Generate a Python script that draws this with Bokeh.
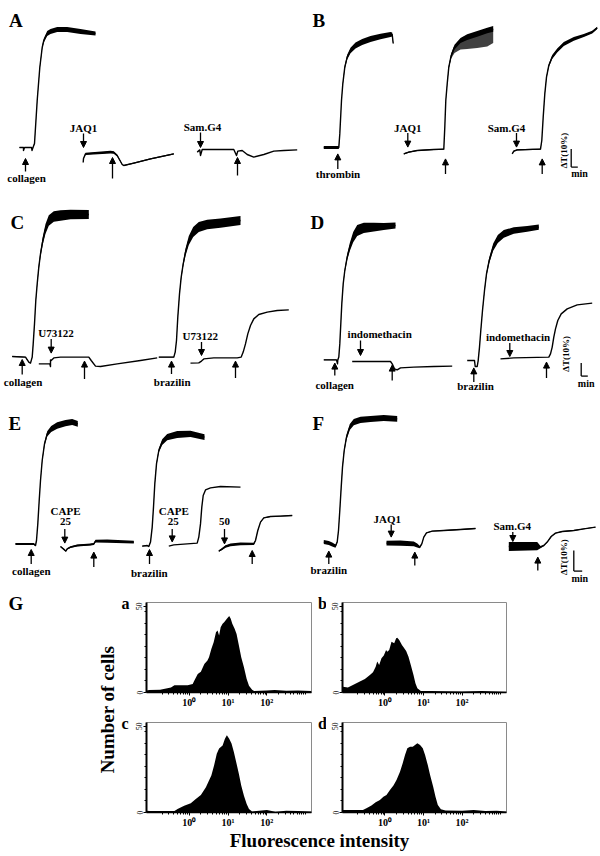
import numpy as np
from bokeh.plotting import figure
from bokeh.models import (Range1d, Arrow, NormalHead, ColumnDataSource,
                          FixedTicker, CustomJSTickFormatter)
from bokeh.layouts import column, row
from bokeh.embed import file_html
from bokeh.resources import INLINE
from bokeh.core.properties import value

SERIF = "Liberation Serif"

# ---------------- aggregation traces (x: min, y: % light transmission) ----------------
# Panel A
A_col_t = [1.1, 1.5, 1.5, 1.6, 2.3, 2.35, 2.45, 2.6, 2.87, 3.13, 3.37, 3.53, 3.87, 4.2, 4.87, 5.87, 7.2, 8.7]
A_col_y = [0, 0, -1.5, 0, 0, -1.5, 0, 2, 23.5, 40, 50, 53.5, 57, 58, 59, 59, 58, 57]
A_col_w = [0.3, 0.3, 0, 0, 0.3, 0, 0.3, 0.4, 0.5, 0.6, 0.8, 1.0, 1.2, 1.3, 1.3, 1.2, 1.2, 1.0]
A_jaq_t = [7.47, 7.5, 7.7, 10.2, 10.53, 10.87, 11.37, 11.53, 12.53, 14.2, 16.53]
A_jaq_y = [-7.5, -5.5, -3.2, -2.3, -2.5, -4, -8.5, -9, -7.8, -5.7, -3.2]
A_jaq_w = [0, 0, 0.6, 0.7, 0.6, 0.5, 0.3, 0.3, 0.3, 0.3, 0.3]
A_sam_t = [18.87, 19.13, 19.2, 19.37, 22.53, 22.8, 22.93, 23.37, 23.87, 24.53, 25.53, 26.53, 27.53, 28.87]
A_sam_y = [-2.3, -1.2, -4, -1, -1, -4, -1.8, -1.5, -3.5, -4.8, -3.5, -1.8, -1.5, -1.2]

# Panel B
B_thr_t = [2.33, 3.83, 3.93, 4.1, 4.23, 4.43, 4.67, 5.0, 5.5, 6.17, 7.0, 8.0, 9.0, 9.17, 9.27]
B_thr_y = [0, 0, 6.8, 23.5, 31.8, 40.2, 45.2, 48.5, 51, 52.7, 54.3, 55.5, 56.5, 56.5, 52]
B_thr_w = [0.8, 0.8, 0.3, 0.4, 0.6, 1.0, 1.2, 1.4, 1.5, 1.5, 1.5, 1.4, 1.3, 1.0, 0.5]
B_jaq_t = [10.33, 10.83, 11.67, 13.33, 14.33, 14.43, 14.53, 14.67, 14.83, 15.07, 15.4, 16.0, 16.67, 17.67, 18.67, 19.27]
B_jaq_y = [-3.2, -2.3, -1.5, -1, -0.8, 10.2, 23.5, 31.8, 40.2, 46, 50.2, 53.5, 55.2, 56.8, 58.5, 59.3]
B_jaq_w = [0.3, 0.3, 0.3, 0.3, 0.3, 0.3, 0.4, 0.6, 0.8, 1.0, 1.2, 1.3, 1.4, 1.4, 1.4, 1.4]
B_jaq_spike = [0, 0, 0, 0, 0, 0, 0, 0, 0.5, 1.5, 3, 4.5, 6, 7, 8, 7]
B_sam_t = [21.17, 21.33, 21.67, 24.0, 24.13, 24.27, 24.43, 24.6, 24.83, 25.17, 25.67, 26.33, 27.33, 28.33, 29.17, 29.67]
B_sam_y = [-3.2, -1.8, -1.2, -0.8, 3.5, 15.2, 26.8, 35.2, 41, 45.2, 48.5, 51.8, 54.3, 56, 57.7, 59.8]
B_sam_w = [0, 0.3, 0.3, 0.3, 0.3, 0.3, 0.4, 0.6, 0.8, 1.0, 1.0, 1.0, 0.9, 0.8, 0.7, 0.6]

# Panel C
C_col_t = [0.37, 1.7, 2.03, 2.2, 2.37, 2.47, 2.6, 2.73, 2.87, 3.03, 3.2, 3.43, 3.7, 4.03, 4.53, 5.2, 6.2, 8.03]
C_col_y = [0.5, 0.2, -2.3, -2.8, 0.2, 6.8, 16.8, 28.5, 36.8, 45.2, 51.8, 58.5, 64.3, 68.5, 70.5, 71, 71.5, 71.5]
C_col_w = [0.2, 0.2, 0.2, 0.2, 0.2, 0.3, 0.4, 0.6, 0.8, 1.2, 1.6, 2.0, 2.4, 2.6, 2.6, 2.6, 2.4, 2.2]
C_u1_t = [3.03, 4.13, 4.2, 4.2, 4.27, 4.53, 5.2, 8.03, 8.27, 8.7, 9.2, 10.87, 13.2, 14.87]
C_u1_y = [-3.2, -3.2, -4.5, -1.2, -1.5, -0.2, 0.2, 0.2, -1.5, -4.3, -4.5, -3.2, -1.5, -0.2]
C_brz_t = [15.03, 16.53, 16.67, 16.8, 16.93, 17.1, 17.27, 17.47, 17.7, 18.03, 18.47, 19.03, 19.87, 21.2, 23.2]
C_brz_y = [0.2, 0.2, 2.7, 8.5, 20.2, 31.8, 40.2, 46.8, 52.7, 58.5, 62.7, 65.2, 66.5, 67.2, 68.5]
C_brz_w = [0.2, 0.2, 0.2, 0.3, 0.4, 0.6, 0.9, 1.3, 1.8, 2.2, 2.5, 2.5, 2.4, 2.3, 2.2]
C_u2_t = [18.2, 19.03, 19.3, 19.53, 20.53, 22.87, 23.27, 23.47, 23.7, 23.93, 24.2, 24.53, 25.03, 25.87, 26.87, 28.03]
C_u2_y = [-2.8, -2.7, -1.8, -0.7, -0.2, -0.2, 0.2, 2.7, 6.8, 11.8, 16, 19.3, 21.5, 22.7, 23.5, 23.8]

# Panel D
D_col_t = [2.33, 3.6, 3.7, 3.73, 3.83, 3.93, 4.03, 4.13, 4.27, 4.43, 4.67, 4.93, 5.27, 5.67, 6.33, 7.33, 8.33, 9.5]
D_col_y = [-0.2, -0.2, -2.2, -0.2, 1.2, 7.8, 17.8, 27.8, 37.8, 44.5, 51.2, 56.2, 61.2, 64.5, 65.8, 66.2, 66.5, 67]
D_col_w = [0.2, 0.2, 0.2, 0.2, 0.2, 0.3, 0.4, 0.5, 0.7, 1.0, 1.5, 2.0, 2.6, 2.8, 2.6, 2.2, 1.8, 1.5]
D_in1_t = [5.17, 9.0, 9.17, 9.4, 9.67, 10.0, 11.33, 13.33, 15.17]
D_in1_y = [-1, -1, -2.2, -4.7, -5.2, -4.2, -3.8, -3.5, -3.3]
D_brz_t = [16.67, 17.4, 17.47, 17.67, 17.77, 17.9, 18.03, 18.2, 18.4, 18.6, 18.87, 19.27, 19.73, 20.33, 21.33, 22.67, 23.83]
D_brz_y = [-0.5, -0.5, -3.5, -3.5, -0.5, 6.2, 14.5, 24.5, 34.5, 42.8, 49.5, 56.2, 60.3, 62.8, 64.5, 65.3, 66.2]
D_brz_w = [0, 0, 0, 0, 0.2, 0.3, 0.4, 0.5, 0.7, 1.0, 1.4, 1.8, 2.0, 1.9, 1.6, 1.4, 1.3]
D_in2_t = [20.0, 21.33, 24.83, 25.0, 25.17, 25.33, 25.5, 25.73, 26.07, 26.67, 27.67, 29.17]
D_in2_y = [0.3, 0.8, 1.2, 2.8, 6.2, 11.2, 15.3, 19.5, 22.8, 25.3, 27.3, 28.2]

# Panel E
E_col_t = [0.7, 2.53, 2.7, 2.8, 2.93, 3.07, 3.2, 3.37, 3.6, 3.87, 4.27, 4.87, 5.7, 6.37, 6.93]
E_col_y = [-0.2, -0.2, -1, 1.5, 9.8, 21.5, 31.5, 41.5, 49.8, 54.8, 57.3, 59, 60.2, 60.7, 59.8]
E_col_w = [0.5, 0.5, 0.3, 0.3, 0.3, 0.4, 0.5, 0.7, 1.0, 1.3, 1.5, 1.6, 1.6, 1.5, 1.4]
E_ca1_t = [5.2, 5.6, 5.73, 5.87, 6.2, 6.87, 8.2, 8.53, 8.7, 9.87, 12.53]
E_ca1_y = [-1.5, -3.2, -3.8, -2.7, -1.8, -1, -0.5, -0.2, 1.2, 1.2, 0.7]
E_ca1_w = [0.3, 0.3, 0.3, 0.3, 0.4, 0.5, 0.5, 0.5, 0.7, 0.8, 0.7]
E_brz_t = [13.37, 13.87, 14.03, 14.2, 14.37, 14.5, 14.63, 14.8, 15.03, 15.37, 15.87, 16.87, 18.2, 19.6]
E_brz_y = [-1.3, -1, -1.5, 0.7, 8.2, 18.2, 29.8, 39.8, 46.5, 50.7, 53.2, 54.5, 54.8, 53.2]
E_brz_w = [0.2, 0.2, 0.2, 0.2, 0.3, 0.4, 0.5, 0.7, 1.0, 1.4, 1.6, 1.7, 1.6, 1.4]
E_ca2_t = [16.03, 16.53, 17.87, 18.87, 19.03, 19.2, 19.33, 19.47, 19.7, 20.2, 21.2, 23.2]
E_ca2_y = [-1.3, -0.7, -0.2, 0.2, 3.2, 9.8, 18.2, 24, 26.8, 27.8, 28.5, 28.2]
E_c50_t = [21.03, 21.37, 21.7, 22.2, 23.2, 24.53, 24.7, 24.93, 25.2, 25.53, 26.2, 27.2, 28.37]
E_c50_y = [-3.8, -2.7, -1.5, -0.7, -0.2, -0.2, 1.5, 6.5, 10.7, 12.8, 13.5, 13.7, 14]
E_c50_w = [0.3, 0.5, 0.6, 0.7, 0.7, 0.6, 0.3, 0.2, 0.2, 0.2, 0.2, 0.2, 0.2]

# Panel F
F_brz_t = [2.33, 2.83, 3.17, 3.5, 3.67, 3.8, 3.93, 4.07, 4.2, 4.37, 4.6, 4.93, 5.33, 6.0, 7.0, 8.33, 9.67]
F_brz_y = [0.7, 0.2, -0.5, -1.3, 0.7, 6.5, 16.5, 28.2, 38.2, 46.5, 53.2, 58.2, 60.7, 61.8, 62.3, 62.7, 62.3]
F_brz_w = [1.0, 1.0, 1.0, 0.8, 0.4, 0.4, 0.5, 0.6, 0.8, 1.0, 1.3, 1.5, 1.6, 1.6, 1.5, 1.5, 1.4]
F_jaq_t = [8.6, 10.0, 11.33, 11.67, 11.93, 12.13, 12.33, 12.6, 13.17, 14.33, 16.0, 17.5]
F_jaq_y = [0.2, 0.2, -0.2, -1, -1.8, -0.2, 3.2, 5.3, 6.2, 6.5, 7, 7.5]
F_jaq_w = [1.2, 1.3, 1.2, 1.0, 0.6, 0.3, 0.2, 0.2, 0.2, 0.2, 0.2, 0.2]
F_sam_t = [20.83, 23.67, 24.0, 24.33, 24.67, 25.07, 25.5, 26.17, 27.33, 28.33, 29.5]
F_sam_y = [-1.5, -1.3, -1.8, -1, 0.7, 3.5, 5.2, 6, 6.5, 7.3, 8.2]
F_sam_w = [2.3, 2.1, 0.6, 0.3, 0.2, 0.2, 0.2, 0.2, 0.2, 0.2, 0.2]

# ---------------- flow cytometry histograms (x: log10 fluorescence, y: cells) ----------------
hist_a_log = [-1.1, -1.03, -0.75, -0.47, -0.38, -0.04, 0.09, 0.13, 0.22, 0.30, 0.39, 0.47, 0.51, 0.57, 0.63,
              0.69, 0.73, 0.77, 0.81, 0.86, 0.90, 0.97, 1.03, 1.07, 1.11, 1.17, 1.22, 1.28, 1.34, 1.41,
              1.48, 1.54, 1.62, 1.67, 2.0, 2.2, 2.5, 2.8, 3.15]
hist_a_cnt = [1.2, 1.4, 1.6, 2.9, 4.2, 4.2, 4.9, 6.8, 10.8, 12.1, 16.5, 18.5, 20.5, 25.3, 29.2,
              35.0, 36.0, 33.1, 37.9, 39.9, 40.8, 42.8, 44.4, 42.8, 39.9, 37.0, 34.0, 27.2, 20.5, 14.6,
              7.8, 3.9, 1.6, 0.8, 1.2, 1.5, 1.0, 1.2, 0.8]
hist_b_log = [-1.13, -1.09, -0.96, -0.83, -0.65, -0.52, -0.39, -0.31, -0.24, -0.20, -0.15, -0.09, -0.03, 0.03,
              0.06, 0.11, 0.17, 0.24, 0.29, 0.32, 0.37, 0.44, 0.50, 0.55, 0.61, 0.67, 0.74, 0.79, 0.84,
              0.93, 1.2, 1.57, 2.0, 2.5, 3.15]
hist_b_cnt = [2.5, 3.4, 2.9, 4.4, 6.4, 7.9, 10.2, 11.8, 15.0, 18.0, 16.0, 19.8, 21.4, 24.6,
              23.7, 24.6, 29.4, 28.5, 31.4, 31.7, 30.5, 27.6, 25.6, 24.1, 20.8, 16.0, 10.2, 5.4, 2.5,
              0.9, 0.8, 0.7, 0.6, 0.8, 0.5]
hist_c_log = [-1.1, -1.02, -0.38, -0.30, -0.13, 0.04, 0.17, 0.30, 0.43, 0.51, 0.57, 0.64, 0.71, 0.77, 0.86,
              0.92, 0.97, 1.03, 1.09, 1.15, 1.22, 1.28, 1.34, 1.41, 1.48, 1.54, 1.62, 2.0, 2.22, 2.5,
              2.8, 3.15]
hist_c_cnt = [1.0, 0.9, 0.9, 2.0, 3.9, 5.4, 7.8, 10.1, 14.6, 18.5, 21.4, 27.2, 34.1, 37.1, 38.9,
              42.8, 44.8, 42.8, 40.0, 35.1, 28.3, 22.4, 15.6, 9.7, 4.9, 2.0, 0.6, 1.4, 0.4, 1.0,
              0.8, 0.6]
hist_d_log = [-1.13, -1.09, -0.57, -0.48, -0.35, -0.24, -0.13, -0.04, 0.04, 0.13, 0.22, 0.30, 0.39, 0.46,
              0.52, 0.58, 0.65, 0.72, 0.78, 0.84, 0.91, 0.98, 1.04, 1.11, 1.17, 1.25, 1.31, 1.37, 1.45,
              1.57, 2.0, 2.3, 2.6, 2.9, 3.15]
hist_d_cnt = [1.5, 1.5, 1.5, 2.5, 4.0, 6.0, 7.3, 9.2, 10.2, 13.1, 15.6, 18.9, 23.7, 28.5,
              33.3, 37.2, 38.1, 38.1, 39.1, 40.1, 39.1, 37.2, 33.3, 27.5, 21.8, 15.0, 9.2, 4.4, 1.9,
              1.2, 1.0, 1.4, 0.8, 1.0, 0.6]
hist_x_ticks = [1, 10, 100]
hist_y_ticks = [0, 50]


def blank_fig(w, h, xr, yr):
    p = figure(width=w, height=h, x_range=Range1d(*xr), y_range=Range1d(*yr),
               output_backend="svg", toolbar_location=None, title=None,
               x_axis_location=None, y_axis_location=None, min_border=0)
    p.outline_line_color = None
    p.grid.visible = False
    p.background_fill_color = "white"
    p.border_fill_color = "white"
    return p


def add_trace(p, t, y, w=None, spike=None):
    t = np.asarray(t, dtype=float)
    y = np.asarray(y, dtype=float)
    if w is not None:
        w = np.asarray(w, dtype=float)
        p.varea(x=t, y1=y - w, y2=y + w, fill_color="black")
    if spike is not None:
        s = np.asarray(spike, dtype=float)
        p.varea(x=t, y1=y - s, y2=y, fill_color="black", fill_alpha=0.75)
    p.line(t, y, line_color="black", line_width=1.4, line_join="round")


def add_arrows(p, xs, y0, y1):
    src = ColumnDataSource(dict(x0=xs, y0=y0, x1=xs, y1=y1))
    p.add_layout(Arrow(end=NormalHead(size=6, fill_color="black", line_color="black", line_width=1),
                       x_start="x0", y_start="y0", x_end="x1", y_end="y1",
                       source=src, line_width=1.3, line_color="black"))


def add_labels(p, xs, ys, texts, size="11px"):
    src = ColumnDataSource(dict(x=xs, y=ys, text=texts))
    p.text(x="x", y="y", text="text", source=src, text_font=value(SERIF),
           text_font_style="bold", text_font_size=size, text_align="center",
           text_baseline="middle", text_color="black")


def add_letter(p, x, y, letter, size="19px"):
    p.text(x=[x], y=[y], text=[letter], text_font=value(SERIF), text_font_style="bold",
           text_font_size=size, text_align="left", text_baseline="alphabetic", text_color="black")


def add_scale(p, tx, ty, bx, by0, by1, bx1, mx, my):
    p.text(x=[tx], y=[ty], text=["\u0394T(10%)"], angle=np.pi / 2, text_font=value(SERIF),
           text_font_style="bold", text_font_size="9px", text_align="center",
           text_baseline="middle", text_color="black")
    p.segment(x0=[bx, bx], y0=[by0, by1], x1=[bx, bx1], y1=[by1, by1], line_color="black", line_width=1.3)
    add_labels(p, [mx], [my], ["min"], size="10px")


# ---------- A ----------
pA = blank_fig(300, 198, (-0.8, 29.2), (-25.5, 73.5))
add_letter(pA, 0.05, 63.5, "A")
add_trace(pA, A_col_t, A_col_y, A_col_w)
add_trace(pA, A_jaq_t, A_jaq_y, A_jaq_w)
add_trace(pA, A_sam_t, A_sam_y)
add_arrows(pA, [1.7, 7.5, 10.4, 19.2, 22.9], [-12, 7, -15.5, 7.5, -14], [-5.5, 0, -5, 0, -5])
add_labels(pA, [1.8, 7.5, 19.4], [-15, 9.75, 10.2], ["collagen", "JAQ1", "Sam.G4"])

# ---------- B ----------
pB = blank_fig(300, 198, (0, 30), (-25.5, 73.5))
add_letter(pB, 1.2, 63.5, "B")
add_trace(pB, B_thr_t, B_thr_y, B_thr_w)
add_trace(pB, B_jaq_t, B_jaq_y, B_jaq_w, B_jaq_spike)
add_trace(pB, B_sam_t, B_sam_y, B_sam_w)
add_arrows(pB, [3.73, 10.73, 14.5, 21.6, 24.17], [-10.7, 7.2, -13.2, 7.2, -13.2], [-3.2, 0.2, -5.7, 0.2, -5.7])
add_labels(pB, [3.75, 10.73, 20.6], [-13.4, 9.7, 9.7], ["thrombin", "JAQ1", "Sam.G4"])
add_scale(pB, 26.35, -1.5, 27.07, -0.7, -9.8, 27.73, 27.9, -13.2)

# ---------- C ----------
pC = blank_fig(300, 200, (-0.8, 29.2), (-20.5, 79.5))
add_letter(pC, 0.2, 67.5, "C")
add_trace(pC, C_col_t, C_col_y, C_col_w)
add_trace(pC, C_u1_t, C_u1_y)
add_trace(pC, C_brz_t, C_brz_y, C_brz_w)
add_trace(pC, C_u2_t, C_u2_y)
add_arrows(pC, [1.37, 4.27, 7.6, 16.3, 19.3, 22.7], [-8.5, 9.3, -10.7, -8.2, 7.7, -10.2],
           [-1.0, 2.2, -1.8, -1.8, 1.0, -1.8])
add_labels(pC, [1.45, 4.75, 16.37, 19.17], [-12, 12.3, -12, 10.6], ["collagen", "U73122", "brazilin", "U73122"])

# ---------- D ----------
pD = blank_fig(300, 200, (0, 30), (-19.5, 80.5))
add_letter(pD, 1.0, 68.5, "D")
add_trace(pD, D_col_t, D_col_y, D_col_w)
add_trace(pD, D_in1_t, D_in1_y)
add_trace(pD, D_brz_t, D_brz_y, D_brz_w)
add_trace(pD, D_in2_t, D_in2_y)
add_arrows(pD, [3.43, 6.0, 9.17, 17.33, 20.93, 24.6], [-8, 9.5, -10.5, -11.3, 8.3, -9.2],
           [-1.8, 2.0, -2.8, -4.2, 1.5, -1.3])
add_labels(pD, [3.42, 7.92, 17.5, 21.75], [-12.6, 12.8, -13.4, 11.3],
           ["collagen", "indomethacin", "brazilin", "indomethacin"])
add_scale(pD, 26.5, 2.8, 28.07, -1.8, -8.3, 28.73, 28.57, -12.2)

# ---------- E ----------
pE = blank_fig(300, 187, (-0.8, 29.2), (-21, 72.5))
add_letter(pE, 0.0, 60, "E")
add_trace(pE, E_col_t, E_col_y, E_col_w)
add_trace(pE, E_ca1_t, E_ca1_y, E_ca1_w)
add_trace(pE, E_brz_t, E_brz_y, E_brz_w)
add_trace(pE, E_ca2_t, E_ca2_y)
add_trace(pE, E_c50_t, E_c50_y, E_c50_w)
add_arrows(pE, [2.27, 5.63, 8.53, 14.1, 16.37, 21.6, 24.37], [-10.2, 7.3, -11.8, -10.2, 7.3, 7.3, -10.2],
           [-3, 0.2, -4.3, -3, 0.8, -0.2, -3.5])
add_labels(pE, [2.28, 5.7, 5.7, 14.08, 16.53, 16.47, 21.6], [-13.8, 16.5, 11.2, -14.8, 16.5, 11.2, 11.2],
           ["collagen", "CAPE", "25", "brazilin", "CAPE", "25", "50"])

# ---------- F ----------
pF = blank_fig(300, 187, (0, 30), (-21, 72.5))
add_letter(pF, 1.2, 60, "F")
add_trace(pF, F_brz_t, F_brz_y, F_brz_w)
add_trace(pF, F_jaq_t, F_jaq_y, F_jaq_w)
add_trace(pF, F_sam_t, F_sam_y, F_sam_w)
add_arrows(pF, [2.83, 9.07, 11.43, 21.23, 23.73], [-10.2, 9.5, -11, 5.7, -13.5], [-3.8, 3.2, -4.3, 1.0, -6.8])
add_labels(pF, [2.83, 8.67, 21.17], [-13, 12.3, 8.6], ["brazilin", "JAQ1", "Sam.G4"])
add_scale(pF, 26.33, -6.8, 27.33, -3.5, -13.8, 28.17, 27.93, -17.7)


# ---------- G: histograms ----------
def hist_fig(logs, cnts, frame_w, top, bottom):
    p = figure(frame_width=frame_w, frame_height=90, x_axis_type="log",
               x_range=Range1d(10 ** -1.1, 10 ** 3.15), y_range=Range1d(0, 52.2),
               output_backend="svg", toolbar_location=None, title=None,
               min_border_left=16, min_border_right=2, min_border_top=top, min_border_bottom=bottom)
    p.grid.visible = False
    p.background_fill_color = "white"
    p.border_fill_color = "white"
    p.outline_line_color = "#8a8a8a"
    p.outline_line_width = 1
    p.varea(x=10 ** np.asarray(logs, dtype=float), y1=0, y2=cnts, fill_color="black")
    xa = p.xaxis[0]
    xa.ticker = FixedTicker(ticks=hist_x_ticks,
                            minor_ticks=[m * 10.0 ** k for k in range(-1, 3) for m in range(2, 10)] + [1000])
    xa.formatter = CustomJSTickFormatter(
        code="const m = {1: '10\u2070', 10: '10\u00b9', 100: '10\u00b2'}; return m[tick] || '';")
    xa.axis_line_color = "black"
    xa.axis_line_width = 1.5
    xa.major_tick_in = 0
    xa.major_tick_out = 3
    xa.minor_tick_in = 0
    xa.minor_tick_out = 2
    xa.major_label_standoff = 1
    xa.major_label_text_font = SERIF
    xa.major_label_text_font_style = "bold"
    xa.major_label_text_font_size = "10px"
    xa.major_label_text_color = "black"
    ya = p.yaxis[0]
    ya.ticker = FixedTicker(ticks=hist_y_ticks, minor_ticks=[6.7, 13.4, 20.1, 26.8, 33.5, 40.2, 46.9])
    ya.axis_line_color = "black"
    ya.axis_line_width = 2
    ya.major_tick_in = 0
    ya.major_tick_out = 3
    ya.minor_tick_in = 0
    ya.minor_tick_out = 2
    ya.major_label_standoff = 1
    ya.major_label_orientation = "vertical"
    ya.major_label_text_font = SERIF
    ya.major_label_text_font_size = "7.5px"
    ya.major_label_text_color = "black"
    return p


ha = hist_fig(hist_a_log, hist_a_cnt, 165, 17, 23)
hc = hist_fig(hist_c_log, hist_c_cnt, 165, 7, 18)
hb = hist_fig(hist_b_log, hist_b_cnt, 164, 17, 23)
hd = hist_fig(hist_d_log, hist_d_cnt, 164, 7, 18)

gLeft = blank_fig(130, 245, (0, 130), (830, 585))
add_letter(gLeft, 8, 603, "G")
gLeft.text(x=[107], y=[709], text=["Number of cells"], angle=np.pi / 2, text_font=value(SERIF),
           text_font_style="bold", text_font_size="19px", text_align="center",
           text_baseline="middle", text_color="black")
add_letter(gLeft, 121, 602.5, "a", size="16px")
add_letter(gLeft, 121, 722.5, "c", size="16px")

gMid = blank_fig(13, 245, (313, 326), (830, 585))
add_letter(gMid, 317.5, 602.5, "b", size="16px")
add_letter(gMid, 317.5, 722.5, "d", size="16px")

gBottom = blank_fig(600, 26, (0, 600), (856, 830))
gBottom.text(x=[319], y=[839.5], text=["Fluorescence intensity"], text_font=value(SERIF),
             text_font_style="bold", text_font_size="19px", text_align="center",
             text_baseline="middle", text_color="black")

layout = column(
    row(pA, pB),
    row(pC, pD),
    row(pE, pF),
    column(row(gLeft, column(ha, hc), gMid, column(hb, hd)), gBottom),
)

html = file_html(layout, INLINE, title="Platelet aggregation")
with open("out.html", "w", encoding="utf-8") as f:
    f.write(html)
